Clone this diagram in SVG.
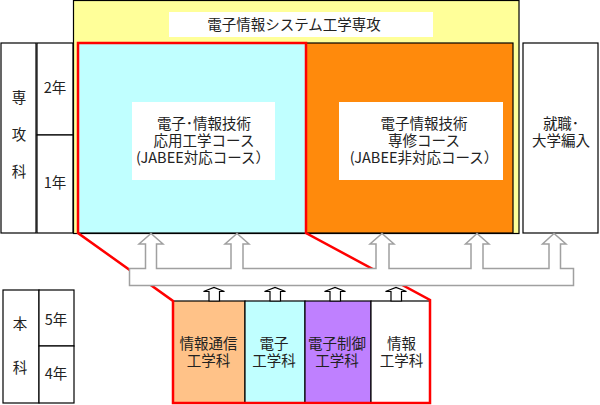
<svg xmlns="http://www.w3.org/2000/svg" width="600" height="405" viewBox="0 0 600 405">
<style>
text{font-family:"Noto Sans CJK JP","Liberation Sans",sans-serif;font-size:14.5px;fill:#222;text-anchor:middle}
.box{stroke:#000;stroke-width:1.2}
.w{fill:#fff}
.red{fill:none;stroke:#FF0000;stroke-width:2.5;stroke-linejoin:miter}
.bar{fill:#fff;stroke:#A0A0A0;stroke-width:1.5}
.sa{fill:#fff;stroke:#000;stroke-width:1.2}
</style>
<rect width="600" height="405" fill="#fff"/>
<g id="senkouka">
<rect class="box w" x="1" y="43" width="35" height="190"/>
<text x="19" y="103">専</text><text x="19" y="140">攻</text><text x="19" y="177">科</text>
</g>
<g id="nen2"><rect class="box w" x="37" y="43" width="36" height="92"/><text x="55" y="93">2年</text></g>
<g id="nen1"><rect class="box w" x="37" y="135" width="36" height="98"/><text x="55" y="188">1年</text></g>
<g id="honka">
<rect class="box w" x="3" y="290" width="36" height="113"/>
<text x="20" y="329">本</text><text x="20" y="373">科</text>
</g>
<g id="nen5"><rect class="box w" x="39" y="290" width="35" height="56"/><text x="56" y="325">5年</text></g>
<g id="nen4"><rect class="box w" x="39" y="346" width="35" height="57"/><text x="56" y="379">4年</text></g>
<g id="senkou">
<rect class="box" x="73.5" y="0.5" width="445.5" height="233" fill="#FFFF99"/>
<rect x="169" y="12" width="264" height="25" fill="#fff"/>
<text x="294" y="30">電子情報システム工学専攻</text>
</g>
<g id="jabee">
<rect class="box" x="78" y="43" width="228" height="190" fill="#C0FFFF"/>
<rect x="132" y="102" width="143" height="78" fill="#fff"/>
<text x="204" y="128.5">電子･情報技術</text>
<text x="204" y="146">応用工学コース</text>
<text x="203" y="162.5">(JABEE対応コース）</text>
</g>
<g id="senshu">
<rect class="box" x="306" y="43" width="207" height="190" fill="#FF8A0C"/>
<rect x="339" y="102" width="164" height="78" fill="#fff"/>
<text x="424" y="128.5">電子情報技術</text>
<text x="424" y="146">専修コース</text>
<text x="424" y="162.5">(JABEE非対応コース）</text>
</g>
<g id="shushoku">
<rect class="box w" x="523" y="43" width="75" height="190"/>
<text x="561" y="128.5">就職･</text>
<text x="561" y="146">大学編入</text>
</g>
<g id="joho-tsushin"><rect class="box" x="173" y="301" width="72" height="102" fill="#FFC288"/><text x="208.5" y="348.5">情報通信</text><text x="208.5" y="366">工学科</text></g>
<g id="denshi"><rect class="box" x="245" y="301" width="60" height="102" fill="#C0FFFF"/><text x="274" y="348.5">電子</text><text x="274" y="366">工学科</text></g>
<g id="denshi-seigyo"><rect class="box" x="305" y="301" width="66" height="102" fill="#BF80FF"/><text x="337" y="348.5">電子制御</text><text x="337" y="366">工学科</text></g>
<g id="joho"><rect class="box w" x="371" y="301" width="59" height="102"/><text x="401.5" y="348.5">情報</text><text x="401.5" y="366">工学科</text></g>
<g id="connectors">
<polygon class="red" points="78,43 306,43 306,233 430,300 430,403 173,403 173,301 78,233"/>
<path class="bar" d="M129.5,268.5 H145.5 V244 H139 L151,233.5 L163,244 H156.5 V268.5 H231 V244 H225 L237,233.5 L249,244 H243 V268.5 H376 V244 H370 L382,233.5 L394,244 H389 V268.5 H471 V244 H465.5 L477,233.5 L489,244 H483 V268.5 H549 V244 H542.5 L554,233.5 L566,244 H560.5 V268.5 H573.5 V285.5 H129.5 Z"/>
<path class="sa" d="M209,301 V291.5 H203.5 L214,287.5 L224.5,291.5 H219.5 V301 Z"/>
<path class="sa" d="M270,301 V291.5 H264.5 L275,287.5 L285.5,291.5 H280.5 V301 Z"/>
<path class="sa" d="M330,301 V291.5 H324.5 L335,287.5 L345.5,291.5 H340.5 V301 Z"/>
<path class="sa" d="M391,301 V291.5 H385.5 L396,287.5 L406.5,291.5 H401.5 V301 Z"/>
</g>
</svg>
